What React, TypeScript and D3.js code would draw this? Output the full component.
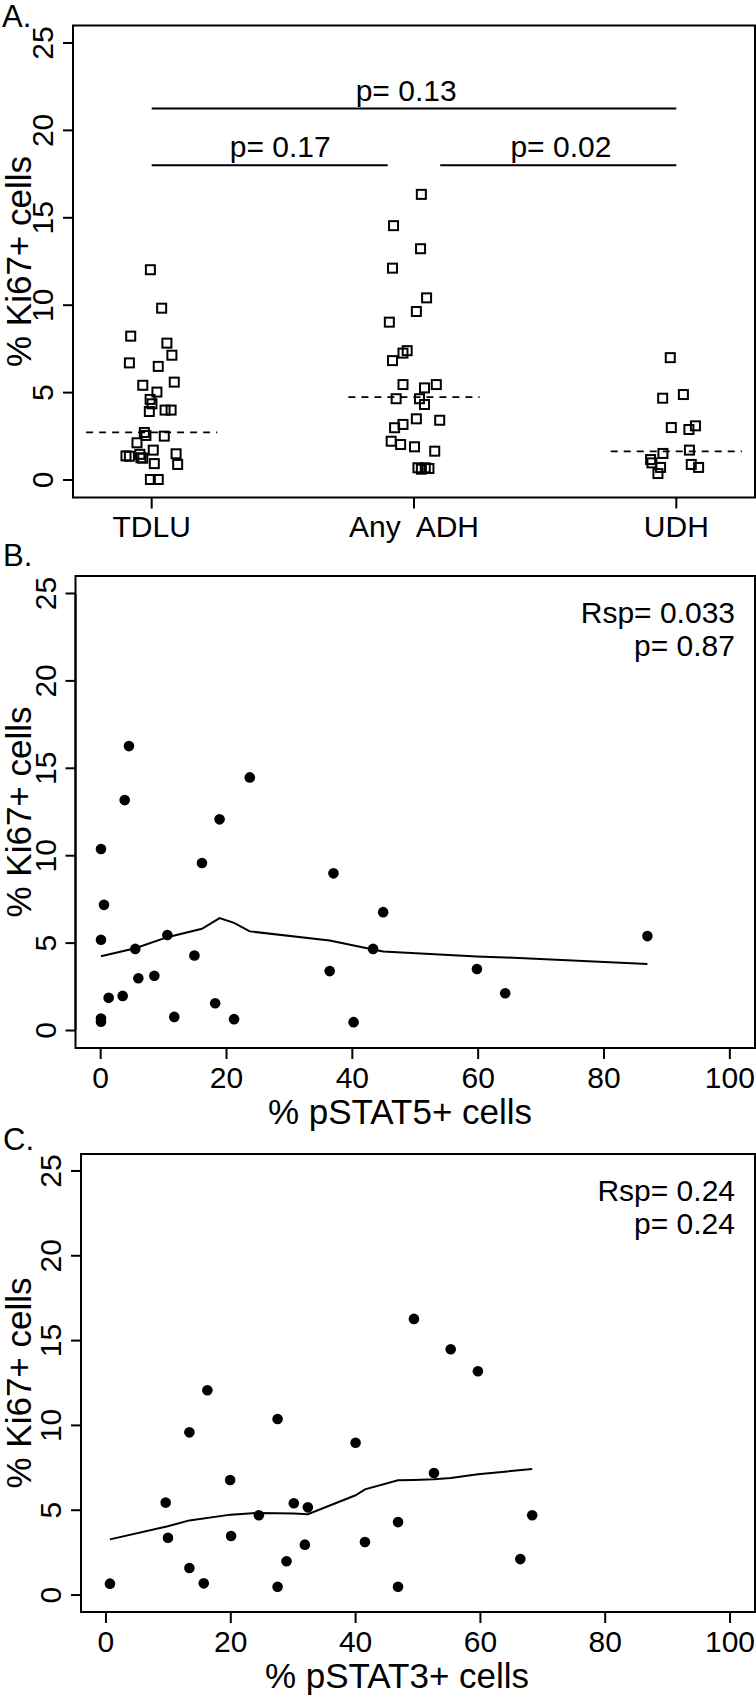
import React from "react";
import * as d3 from "d3";

// ---------- Panel A data ----------
const groups = ["TDLU", "Any  ADH", "UDH"];
const tdluKi67 = [12.03, 9.83, 8.23, 7.83, 7.14, 6.7, 6.5, 5.6, 5.42, 5.03, 4.61, 4.36, 3.92, 4.0, 4.0, 2.72, 2.55, 2.51, 2.13, 1.38, 1.36, 1.27, 1.25, 1.71, 1.5, 0.94, 0.89, 0.03, 0.03, 1.47];
const tdluJitter = [-0.005, 0.038, -0.08, 0.058, 0.077, -0.085, 0.025, 0.086, -0.034, 0.02, -0.006, 0.001, -0.009, 0.051, 0.074, -0.028, -0.022, 0.048, -0.056, -0.098, -0.085, -0.041, -0.034, 0.006, 0.093, 0.01, 0.099, -0.005, 0.025, -0.045];
const adhKi67 = [16.34, 14.55, 13.23, 12.12, 10.42, 9.64, 9.03, 7.4, 7.26, 6.83, 5.46, 5.46, 5.27, 4.65, 4.65, 4.32, 3.5, 3.42, 3.18, 2.99, 2.22, 2.03, 1.9, 1.65, 0.7, 0.62, 0.7, 0.66];
const adhJitter = [0.028, -0.078, 0.025, -0.082, 0.048, 0.009, -0.094, -0.026, -0.042, -0.082, -0.042, 0.085, 0.04, -0.068, 0.021, 0.04, 0.009, 0.098, -0.042, -0.074, -0.087, -0.051, 0.002, 0.079, 0.015, 0.028, 0.043, 0.057];
const udhKi67 = [7.0, 4.68, 4.89, 3.0, 2.89, 3.1, 1.52, 1.71, 1.17, 0.98, 0.72, 0.37, 0.89, 0.72];
const udhJitter = [-0.023, -0.052, 0.027, -0.019, 0.048, 0.073, -0.051, 0.05, -0.098, -0.093, -0.06, -0.07, 0.057, 0.085];
const groupMedians = [2.73, 4.74, 1.64];
const sigFrom = [1, 1, 2.1];
const sigTo = [3, 1.9, 3];
const sigLevel = [21.25, 18.0, 18.0];
const sigTextX = [1.97, 1.49, 2.56];
const sigLabels = ["p= 0.13", "p= 0.17", "p= 0.02"];

// ---------- Panel B data ----------
const stat5X = [4.5, 3.82, 23.7, 18.9, 0.05, 16.1, 37.0, 0.53, 44.9, 0.05, 10.6, 5.5, 43.3, 14.9, 36.4, 5.99, 8.53, 1.27, 3.5, 18.2, 0.05, 0.05, 11.7, 21.2, 40.2, 59.8, 64.3, 86.9];
const stat5Ki67 = [16.27, 13.18, 14.48, 12.08, 10.38, 9.58, 8.99, 7.19, 6.77, 5.19, 5.46, 4.67, 4.67, 4.29, 3.4, 2.99, 3.13, 1.87, 1.98, 1.56, 0.69, 0.5, 0.78, 0.65, 0.48, 3.52, 2.13, 5.4];
const stat5FitX = [0.05, 5.5, 10.6, 16.1, 18.9, 21.2, 23.7, 36.4, 43.3, 44.9, 59.8, 64.3, 86.9];
const stat5FitY = [4.25, 4.71, 5.34, 5.82, 6.43, 6.16, 5.67, 5.15, 4.64, 4.52, 4.24, 4.18, 3.8];
const stat5Stats = ["Rsp= 0.033", "p= 0.87"];

// ---------- Panel C data ----------
const stat3X = [0.64, 9.57, 9.94, 13.37, 13.37, 15.67, 16.25, 19.9, 20.05, 24.5, 27.5, 27.5, 28.93, 30.1, 31.87, 32.35, 40.0, 41.5, 46.8, 46.8, 49.35, 52.56, 55.24, 59.6, 66.4, 68.3];
const stat3Ki67 = [0.67, 5.45, 3.38, 9.59, 1.59, 0.69, 12.07, 6.78, 3.48, 4.7, 10.38, 0.49, 1.99, 5.41, 2.97, 5.17, 8.98, 3.13, 4.3, 0.49, 16.28, 7.19, 14.49, 13.19, 2.12, 4.7];
const stat3FitX = [0.64, 9.9, 13.37, 20.0, 24.5, 30.1, 32.35, 40.0, 41.5, 46.8, 49.35, 52.56, 55.24, 59.6, 68.3];
const stat3FitY = [3.28, 4.05, 4.4, 4.74, 4.84, 4.8, 4.76, 5.88, 6.23, 6.76, 6.78, 6.82, 6.9, 7.12, 7.43];
const stat3Stats = ["Rsp= 0.24", "p= 0.24"];

const yTicks = [0, 5, 10, 15, 20, 25];
const xTicks = [0, 20, 40, 60, 80, 100];

const FONT = "'Liberation Sans', Arial, Helvetica, sans-serif";
const W = 756;
const H = 1701;

function YAxis({ y, left, top, bottom }: { y: any; left: number; top: number; bottom: number }) {
  const cy = (top + bottom) / 2;
  return (
    <g>
      <line x1={left} x2={left} y1={y(0)} y2={y(25)} stroke="#000" strokeWidth={2} />
      {yTicks.map((t) => (
        <g key={t}>
          <line x1={left - 10} x2={left} y1={y(t)} y2={y(t)} stroke="#000" strokeWidth={2} />
          <text
            transform={`translate(${left - 20},${y(t)}) rotate(-90)`}
            textAnchor="middle"
            fontSize={30}
            fontFamily={FONT}
          >
            {t}
          </text>
        </g>
      ))}
      <text
        transform={`translate(31,${cy}) rotate(-90)`}
        textAnchor="middle"
        fontSize={35}
        fontFamily={FONT}
      >
        % Ki67+ cells
      </text>
    </g>
  );
}

function PanelA() {
  const left = 73, right = 755, top = 25.5, bottom = 497.5;
  const x = d3.scaleLinear().domain([0.7, 3.3]).range([left, right]);
  const y = d3.scaleLinear().domain([-1, 26]).range([bottom, top]);
  const sets = [
    { vals: tdluKi67, jit: tdluJitter },
    { vals: adhKi67, jit: adhJitter },
    { vals: udhKi67, jit: udhJitter },
  ];
  const s = 9;
  return (
    <g>
      <text x={2} y={27} fontSize={31} fontFamily={FONT}>A.</text>
      <rect x={left} y={top} width={right - left} height={bottom - top} fill="none" stroke="#000" strokeWidth={2} />
      <YAxis y={y} left={left} top={top} bottom={bottom} />
      {groups.map((g, i) => (
        <g key={g}>
          <line x1={x(i + 1)} x2={x(i + 1)} y1={bottom} y2={bottom + 11} stroke="#000" strokeWidth={2} />
          <text x={x(i + 1)} y={bottom + 39} textAnchor="middle" fontSize={30} fontFamily={FONT} style={{ whiteSpace: "pre" }}>
            {g}
          </text>
        </g>
      ))}
      {sets.map((st, gi) =>
        st.vals.map((v, j) => (
          <rect
            key={`${gi}-${j}`}
            x={x(gi + 1 + st.jit[j]) - s / 2}
            y={y(v) - s / 2}
            width={s}
            height={s}
            fill="none"
            stroke="#000"
            strokeWidth={2}
          />
        ))
      )}
      {groupMedians.map((m, i) => (
        <line
          key={i}
          x1={x(i + 1 - 0.25)}
          x2={x(i + 1 + 0.25)}
          y1={y(m)}
          y2={y(m)}
          stroke="#000"
          strokeWidth={1.8}
          strokeDasharray="7,6"
        />
      ))}
      {sigLevel.map((lv, i) => (
        <g key={i}>
          <line x1={x(sigFrom[i])} x2={x(sigTo[i])} y1={y(lv)} y2={y(lv)} stroke="#000" strokeWidth={2} />
          <text x={x(sigTextX[i])} y={y(lv) - 8} textAnchor="middle" fontSize={30} fontFamily={FONT}>
            {sigLabels[i]}
          </text>
        </g>
      ))}
    </g>
  );
}

function ScatterPanel({
  letter, letterY, left, top, bottom, xs, ys, fx, fy, stats, xTitle, titleX,
}: {
  letter: string; letterY: number; left: number; top: number; bottom: number;
  xs: number[]; ys: number[]; fx: number[]; fy: number[]; stats: string[]; xTitle: string; titleX: number;
}) {
  const right = 755;
  const x = d3.scaleLinear().domain([-4, 104]).range([left, right]);
  const y = d3.scaleLinear().domain([-1, 26]).range([bottom, top]);
  const line = d3.line<number>().x((d, i) => x(fx[i])).y((d) => y(d));
  return (
    <g>
      <text x={3} y={letterY} fontSize={31} fontFamily={FONT}>{letter}</text>
      <rect x={left} y={top} width={right - left} height={bottom - top} fill="none" stroke="#000" strokeWidth={2} />
      <YAxis y={y} left={left} top={top} bottom={bottom} />
      <line x1={x(0)} x2={x(100)} y1={bottom} y2={bottom} stroke="#000" strokeWidth={2} />
      {xTicks.map((t) => (
        <g key={t}>
          <line x1={x(t)} x2={x(t)} y1={bottom} y2={bottom + 11} stroke="#000" strokeWidth={2} />
          <text x={x(t)} y={bottom + 40} textAnchor="middle" fontSize={30} fontFamily={FONT}>{t}</text>
        </g>
      ))}
      <text x={titleX} y={bottom + 76} textAnchor="middle" fontSize={35} fontFamily={FONT}>{xTitle}</text>
      {xs.map((v, i) => (
        <circle key={i} cx={x(v)} cy={y(ys[i])} r={5.3} fill="#000" />
      ))}
      <path d={line(fy) || ""} fill="none" stroke="#000" strokeWidth={2} />
      {stats.map((s, i) => (
        <text key={i} x={735} y={top + 47 + i * 33} textAnchor="end" fontSize={30} fontFamily={FONT}>{s}</text>
      ))}
    </g>
  );
}

export default function App() {
  return (
    <svg
      width={W}
      height={H}
      viewBox={`0 0 ${W} ${H}`}
      style={{ position: "absolute", left: 0, top: 0, display: "block", background: "#fff" }}
    >
      <rect x={0} y={0} width={W} height={H} fill="#fff" />
      <PanelA />
      <ScatterPanel
        letter="B." letterY={566} left={75.5} top={576} bottom={1048}
        xs={stat5X} ys={stat5Ki67} fx={stat5FitX} fy={stat5FitY}
        stats={stat5Stats} xTitle="% pSTAT5+ cells" titleX={400}
      />
      <ScatterPanel
        letter="C." letterY={1150} left={81} top={1154} bottom={1612}
        xs={stat3X} ys={stat3Ki67} fx={stat3FitX} fy={stat3FitY}
        stats={stat3Stats} xTitle="% pSTAT3+ cells" titleX={397}
      />
    </svg>
  );
}
